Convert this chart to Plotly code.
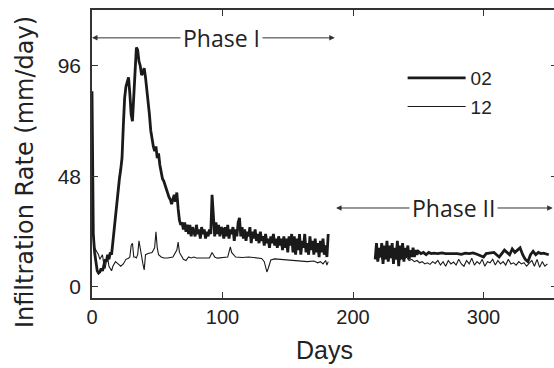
import plotly.graph_objects as go

# ---------------- data ----------------
# Series 02 (thick) - Phase I
days_02_p1 = [0, 0.5, 1, 2] + list(range(3, 182))
rate_02_p1 = [85, 40, 23, 15,
              10, 7, 6, 6.5, 8, 7, 9, 12, 11, 14,
              12, 15, 14, 20, 26, 32, 38, 42, 47, 51,
              56, 70, 82, 87, 89, 91, 84, 75, 72, 85,
              97, 104, 103, 98, 96, 92, 93, 95, 91, 86,
              82, 75, 68, 64, 61, 59, 61, 56, 58, 53,
              50, 47, 46, 44, 42, 41, 39, 38, 36, 38,
              40, 37, 41, 34, 29, 27, 28, 25, 28, 24,
              27, 23, 27, 22, 26, 24, 22, 27, 23, 25,
              21, 26, 23, 25, 21, 24, 22, 25, 23, 40,
              30, 22, 28, 23, 27, 22, 26, 25, 21, 26,
              22, 27, 21, 25, 23, 26, 20, 25, 22, 28,
              30, 22, 26, 21, 25, 20, 24, 22, 26, 19,
              24, 21, 25, 20, 23, 19, 24, 20, 22, 18,
              23, 19, 21, 17, 22, 19, 23, 18, 21, 17,
              22, 18, 21, 16, 22, 17, 21, 15, 22, 18,
              23, 15, 22, 14, 21, 16, 23, 14, 20, 17,
              23, 15, 19, 14, 22, 16, 20, 14, 21, 15,
              19, 13, 20, 15, 21, 14, 18, 13, 23]

# Series 02 (thick) - Phase II
days_02_p2 = list(range(217, 250)) + [250, 252, 254, 256, 258, 260, 262, 265, 268, 271,
                                      274, 277, 280, 283, 286, 289, 292, 295, 298, 300,
                                      302, 305, 308, 310, 312, 314, 316, 318, 320, 322,
                                      324, 326, 328, 330, 332, 334, 336, 338, 340, 342,
                                      344, 346, 348, 350]
rate_02_p2 = [12, 19, 11, 17, 13, 19, 10, 18, 12, 20,
              11, 18, 13, 19, 10, 17, 12, 20, 9, 18,
              12, 19, 11, 17, 13, 18, 12, 16, 13, 17,
              13, 16, 14,
              15.5, 14.5, 15, 14, 15, 14.5, 14.7, 14.5, 14.8, 14.5,
              14.5, 14.8, 14.5, 14.2, 14.7, 14.5, 14.8, 14.2, 13.5, 13,
              14.5, 14.7, 15, 14, 13, 14.5, 16, 15, 14, 16.5,
              15, 16, 17, 14, 12, 11, 14, 15.5, 14, 15,
              14.5, 14.7, 14.5, 14]

# Series 12 (thin) - Phase I
days_12_p1 = [0, 1, 2, 4, 5, 6, 8, 9, 10, 11, 12, 13, 15, 16, 18, 20, 22, 24, 25, 26,
              28, 29, 30, 31, 32, 33, 34, 35, 36, 37, 38, 39, 40, 41, 43, 46, 48, 49, 50, 51,
              53, 55, 58, 62, 65, 66, 67, 68, 70, 72, 74, 76, 78, 80, 83, 90, 92, 94, 96, 100,
              104, 106, 107, 110, 115, 120, 125, 130, 132, 134, 135, 137, 140, 145, 150, 155, 160, 165, 170, 173,
              175, 177, 179, 180, 181]
rate_12_p1 = [30, 22, 17, 15, 14, 12, 14, 10, 8, 11, 13, 9, 7, 9, 11, 10, 9, 10, 11, 12,
              12.5, 13, 18, 19, 13, 13, 12.6, 14, 20, 16, 12, 10, 7.4, 14, 14.5, 15, 17, 24, 17, 14,
              13, 12.6, 12.6, 13, 16, 19.5, 15, 14, 12, 11.5, 13, 12.6, 13, 12.6, 12.6, 12.6, 15, 13, 12.5, 12.6,
              13, 17.4, 15, 13, 12.8, 13, 12.6, 12.4, 11, 6.5, 8, 11.7, 12.2, 12, 11.8, 11.7, 11.5, 11, 11.3, 10.5,
              11, 10, 11.5, 9.5, 11]

# Series 12 (thin) - Phase II
days_12_p2 = [217, 219, 221, 223, 225, 227, 229, 231, 233, 235,
              237, 239, 241, 243, 245, 247, 249, 251, 253, 255,
              257, 259, 261, 263, 265, 267, 269, 271, 273, 275,
              277, 279, 281, 283, 285, 287, 289, 291, 293, 295,
              297, 299, 301, 303, 305, 307, 309, 311, 313, 315,
              317, 319, 321, 323, 325, 327, 329, 331, 333, 335,
              337, 339, 341, 343, 345, 347, 349]
rate_12_p2 = [12.6, 12, 13.5, 11.5, 12.8, 11.8, 13, 12, 12.5, 11,
              12.6, 12, 13, 11.5, 12, 11, 11.5, 10.5, 11, 10,
              10.5, 9.8, 11, 10.2, 11.5, 9.5, 11, 9, 11.5, 10,
              10.8, 9.5, 12, 10, 9, 11.5, 10, 12.5, 9.5, 11,
              10, 12, 9, 11, 10.5, 12, 9.5, 11.5, 10, 11,
              9.5, 12, 10, 10.5, 9.5, 11, 10, 10.5, 9, 10.5,
              11.5, 9, 12, 8.5, 11, 9, 10]

x_tick_vals = [0, 100, 200, 300]
y_tick_vals = [0, 48, 96]
series_names = ["02", "12"]
phase_labels = ["Phase I", "Phase II"]
y_title = "Infiltration Rate (mm/day)"

# ---------------- figure ----------------
x02 = days_02_p1 + [None] + days_02_p2
y02 = rate_02_p1 + [None] + rate_02_p2
x12 = days_12_p1 + [None] + days_12_p2
y12 = rate_12_p1 + [None] + rate_12_p2

fig = go.Figure()
fig.add_trace(go.Scatter(x=x02, y=y02, mode="lines", name=series_names[0],
                         line=dict(color="#1a1a1a", width=2.8), connectgaps=False,
                         legendgroup="a"))
fig.add_trace(go.Scatter(x=x12, y=y12, mode="lines", name=series_names[1],
                         line=dict(color="#1a1a1a", width=1.1), connectgaps=False,
                         legendgroup="b"))

axis_color = "#333333"
font_fam = "Liberation Sans, Arial"
fig.update_xaxes(range=[0, 356.3], tickvals=x_tick_vals, ticks="inside", ticklen=6,
                 tickwidth=1.2, tickcolor=axis_color, showline=True, linecolor=axis_color,
                 linewidth=1.5, mirror="ticks", showgrid=False, zeroline=False,
                 automargin=False,
                 tickfont=dict(family=font_fam, size=20, color="#222"),
                 title=dict(text="Days", font=dict(family=font_fam, size=25, color="#222")))
fig.update_yaxes(range=[-4.8, 120.3], tickvals=y_tick_vals, ticks="inside", ticklen=6,
                 tickwidth=1.2, tickcolor=axis_color, showline=True, linecolor=axis_color,
                 linewidth=1.5, mirror="ticks", showgrid=False, zeroline=False,
                 automargin=False, ticklabelstandoff=5,
                 tickfont=dict(family=font_fam, size=21, color="#222"))

# y-axis title placed as rotated text (reference title sits slightly below plot centre)
fig.add_annotation(x=-0.144, y=0.4375, xref="paper", yref="paper", text=y_title,
                   textangle=-90, showarrow=False, xanchor="center", yanchor="middle",
                   font=dict(family="DejaVu Sans, Liberation Sans", size=24, color="#222"))

# Phase arrows
phase_font = dict(family="Open Sans, Liberation Sans", size=23, color="#222")
arrows = [
    (99, 108.2, 0, 108.2), (99, 108.2, 186, 108.2),
    (277, 34.3, 187, 34.3), (277, 34.3, 353, 34.3),
]
for ax_, ay_, x_, y_ in arrows:
    fig.add_annotation(x=x_, y=y_, ax=ax_, ay=ay_, xref="x", yref="y", axref="x", ayref="y",
                       text="", showarrow=True, arrowhead=2, arrowsize=1.1, arrowwidth=1,
                       arrowcolor="#333")
fig.add_annotation(x=99, y=108.2, xref="x", yref="y", text=phase_labels[0], showarrow=False,
                   font=phase_font, bgcolor="white", borderpad=2)
fig.add_annotation(x=277, y=34.3, xref="x", yref="y", text=phase_labels[1], showarrow=False,
                   font=phase_font, bgcolor="white", borderpad=2)

# figure is 3 px wider than the window so the right frame edge falls just outside the view,
# as in the reference
fig.update_layout(
    width=557, height=368,
    margin=dict(l=92, r=0, t=10, b=70),
    plot_bgcolor="white", paper_bgcolor="white",
    showlegend=True,
    legend=dict(x=0.668, y=0.83, xanchor="left", yanchor="top",
                font=dict(family=font_fam, size=19, color="#222"),
                bgcolor="rgba(0,0,0,0)", itemwidth=58, traceorder="grouped",
                tracegroupgap=1),
)

fig.write_html("out.html", config={"displayModeBar": False},
               post_script="document.body.style.margin='0';document.body.style.overflow='hidden';")
